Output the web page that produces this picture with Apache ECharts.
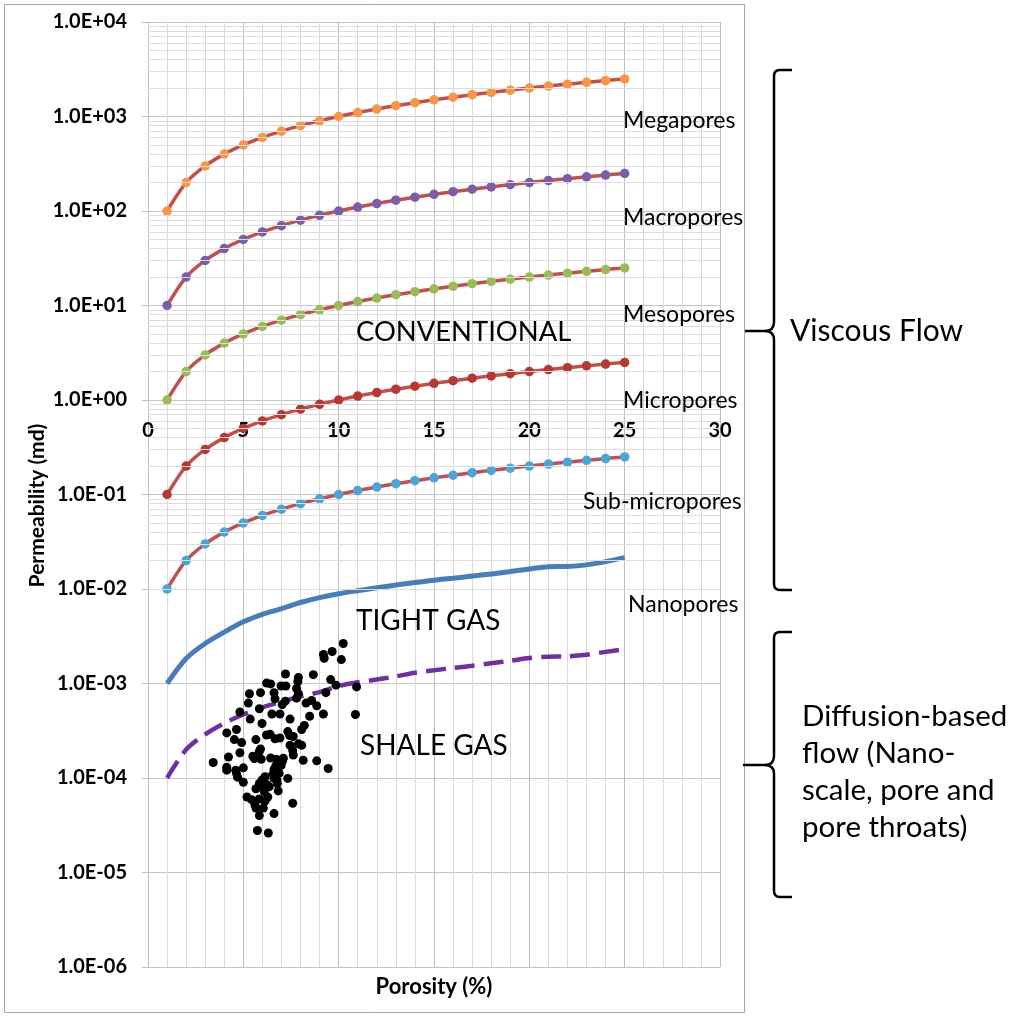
<!DOCTYPE html>
<html>
<head>
<meta charset="utf-8">
<script src="https://cdn.jsdelivr.net/npm/echarts@6/dist/echarts.min.js"></script>
<style>
  html, body { margin: 0; padding: 0; background: #ffffff; }
  #chart { width: 1014px; height: 1016px; }
</style>
</head>
<body>
<div id="chart"></div>
<script>
// Porosity (%) sample points shared by the pore-class curves
const porosity = [1, 2, 3, 4, 5, 6, 7, 8, 9, 10, 11, 12, 13, 14, 15, 16, 17, 18, 19, 20, 21, 22, 23, 24, 25];

// Permeability (md) per pore class
const megapores = [100, 200, 300, 400, 500, 600, 700, 800, 900, 1000, 1100, 1200, 1300, 1400, 1500, 1600, 1700, 1800, 1900, 2000, 2100, 2200, 2300, 2400, 2500];
const macropores = [10, 20, 30, 40, 50, 60, 70, 80, 90, 100, 110, 120, 130, 140, 150, 160, 170, 180, 190, 200, 210, 220, 230, 240, 250];
const mesopores = [1, 2, 3, 4, 5, 6, 7, 8, 9, 10, 11, 12, 13, 14, 15, 16, 17, 18, 19, 20, 21, 22, 23, 24, 25];
const micropores = [0.1, 0.2, 0.3, 0.4, 0.5, 0.6, 0.7, 0.8, 0.9, 1.0, 1.1, 1.2, 1.3, 1.4, 1.5, 1.6, 1.7, 1.8, 1.9, 2.0, 2.1, 2.2, 2.3, 2.4, 2.5];
const subMicropores = [0.01, 0.02, 0.03, 0.04, 0.05, 0.06, 0.07, 0.08, 0.09, 0.10, 0.11, 0.12, 0.13, 0.14, 0.15, 0.16, 0.17, 0.18, 0.19, 0.20, 0.21, 0.22, 0.23, 0.24, 0.25];

// Tight gas (nanopores) trend
const nanopores = [0.00100, 0.00184, 0.00265, 0.00350, 0.00450, 0.00540, 0.00620, 0.00720, 0.00810, 0.00890, 0.00960, 0.01030, 0.01100, 0.01170, 0.01240, 0.01300, 0.01370, 0.01440, 0.01530, 0.01630, 0.01720, 0.01730, 0.01800, 0.01950, 0.02150];

// Shale gas trend (dashed)
const shaleTrend = [0.000100, 0.000200, 0.000290, 0.000380, 0.000470, 0.000560, 0.000640, 0.000730, 0.000810, 0.000940, 0.001030, 0.001100, 0.001190, 0.001300, 0.001380, 0.001460, 0.001540, 0.001640, 0.001740, 0.001860, 0.001920, 0.001940, 0.002020, 0.002160, 0.002300];

// Shale gas samples
const shalePorosity = [
  10.24, 9.66, 9.20, 9.24, 10.14, 7.21, 8.67, 7.89, 9.58, 6.22,
  6.43, 6.98, 7.23, 7.86, 7.79, 9.86, 10.94, 5.32, 5.90, 6.61,
  7.89, 9.33, 5.26, 6.66, 7.79, 8.58, 8.29, 8.85, 5.84, 7.04,
  4.82, 6.50, 6.92, 8.48, 9.20, 10.88, 5.36, 7.45, 5.98, 8.20,
  8.06, 4.64, 4.13, 6.22, 7.33, 7.43, 7.62, 5.66, 4.53, 4.91,
  6.66, 6.92, 7.45, 8.06, 7.89, 5.90, 5.84, 7.59, 7.62, 4.82,
  4.22, 5.58, 5.94, 6.43, 6.72, 6.92, 8.14, 8.85, 3.42, 6.78,
  6.98, 4.13, 4.13, 5.00, 6.81, 4.60, 9.45, 6.61, 4.64, 6.14,
  6.61, 7.33, 4.70, 5.00, 5.96, 6.76, 5.84, 6.78, 5.66, 6.05,
  6.36, 6.83, 6.10, 5.19, 5.44, 5.61, 5.84, 6.28, 6.14, 7.59,
  5.66, 6.05, 5.84, 6.61, 5.74, 6.31,
  6.85, 6.95, 7.05, 6.70, 6.55, 6.25, 6.00, 5.50, 7.10, 6.40, 7.20, 6.88
];
const shalePermeability = [
  2.65e-3, 2.18e-3, 2.03e-3, 1.85e-3, 1.79e-3, 1.26e-3, 1.24e-3, 1.16e-3, 1.10e-3, 1.01e-3,
  9.9e-4, 9.4e-4, 9.4e-4, 1.05e-3, 8.85e-4, 9.6e-4, 9.2e-4, 7.8e-4, 8.0e-4, 8.0e-4,
  7.8e-4, 8.0e-4, 6.2e-4, 6.9e-4, 7.0e-4, 6.6e-4, 6.2e-4, 5.8e-4, 5.4e-4, 6.0e-4,
  5.0e-4, 4.75e-4, 4.75e-4, 4.5e-4, 4.75e-4, 4.7e-4, 4.2e-4, 4.2e-4, 3.77e-4, 3.6e-4,
  3.26e-4, 3.26e-4, 3.0e-4, 2.85e-4, 3.1e-4, 2.82e-4, 2.75e-4, 2.55e-4, 2.55e-4, 2.37e-4,
  2.6e-4, 2.65e-4, 2.22e-4, 2.22e-4, 2.3e-4, 2.03e-4, 1.91e-4, 1.95e-4, 1.75e-4, 1.85e-4,
  1.67e-4, 1.61e-4, 1.58e-4, 1.63e-4, 1.58e-4, 1.54e-4, 1.54e-4, 1.52e-4, 1.46e-4, 1.42e-4,
  1.35e-4, 1.21e-4, 1.30e-4, 1.28e-4, 1.26e-4, 1.21e-4, 1.26e-4, 1.23e-4, 1.12e-4, 1.03e-4,
  9.9e-5, 9.9e-5, 1.02e-4, 9.0e-5, 9.2e-5, 9.5e-5, 8.75e-5, 8.75e-5, 7.7e-5, 7.9e-5,
  8.1e-5, 7.3e-5, 7.2e-5, 6.3e-5, 5.9e-5, 5.2e-5, 6.0e-5, 6.3e-5, 5.7e-5, 5.4e-5,
  4.8e-5, 4.8e-5, 4.0e-5, 4.2e-5, 2.78e-5, 2.62e-5,
  1.45e-4, 1.38e-4, 1.50e-4, 1.33e-4, 1.10e-4, 8.5e-5, 9.6e-5, 1.7e-4, 1.62e-4, 2.9e-4, 6.5e-4, 1.12e-4
];

// Axis tick labels
const xTickLabels = ['0', '5', '10', '15', '20', '25', '30'];
const yTickLabels = ['1.0E-06', '1.0E-05', '1.0E-04', '1.0E-03', '1.0E-02', '1.0E-01', '1.0E+00', '1.0E+01', '1.0E+02', '1.0E+03', '1.0E+04'];

const FONT = 'Lato, "Open Sans", sans-serif';
const CURVE_RED = '#c0504d';

function pairs(xs, ys) {
  return xs.map((x, i) => [x, ys[i]]);
}

// Log-scale minor gridlines at 2..9 within each decade
const minorGrid = [];
for (let e = -6; e < 4; e++) {
  for (let m = 2; m <= 9; m++) minorGrid.push({ yAxis: m * Math.pow(10, e) });
}

function poreSeries(name, values, markerColor) {
  return {
    name: name,
    type: 'line',
    data: pairs(porosity, values),
    smooth: 0.3,
    symbol: 'circle',
    symbolSize: 9.5,
    lineStyle: { color: CURVE_RED, width: 3.5 },
    itemStyle: { color: markerColor, borderWidth: 0 },
    z: 4
  };
}

function textEl(str, x, y, size) {
  return {
    type: 'text', x: x, y: y, z: 50, silent: true,
    style: { text: str, fill: '#000', fontSize: size, fontFamily: FONT, verticalAlign: 'middle', align: 'left' }
  };
}

// Left curly brace: hooks at yTop / yBottom, point at yMid reaching xTip
function brace(yTop, yMid, yBottom, xTip) {
  const xv = 774, xh = 792, r = 6, rm = 9;
  const st = { stroke: '#000', lineWidth: 2.5, fill: null };
  const seg = (x1, y1, x2, y2) => ({ type: 'line', z: 50, silent: true, shape: { x1, y1, x2, y2 }, style: st });
  const crv = (x1, y1, cx, cy, x2, y2) => ({ type: 'bezierCurve', z: 50, silent: true, shape: { x1, y1, cpx1: cx, cpy1: cy, x2, y2 }, style: st });
  return [
    seg(xh, yTop, xv + r, yTop),
    crv(xv + r, yTop, xv, yTop, xv, yTop + r),
    seg(xv, yTop + r, xv, yMid - rm),
    crv(xv, yMid - rm, xv, yMid, xv - rm, yMid),
    seg(xv - rm, yMid, xTip, yMid),
    crv(xv - rm, yMid, xv, yMid, xv, yMid + rm),
    seg(xv, yMid + rm, xv, yBottom - r),
    crv(xv, yBottom - r, xv, yBottom, xv + r, yBottom),
    seg(xv + r, yBottom, xh, yBottom)
  ];
}

const chart = echarts.init(document.getElementById('chart'), null, { renderer: 'canvas' });

const option = {
  backgroundColor: '#ffffff',
  animation: false,
  grid: { left: 148, top: 22, width: 572, height: 945, containLabel: false },
  xAxis: {
    type: 'value',
    min: 0,
    max: 30,
    interval: 5,
    name: 'Porosity (%)',
    nameLocation: 'middle',
    nameGap: 9,
    nameMoveOverlap: false,
    nameTextStyle: { fontFamily: FONT, fontWeight: 'bold', fontSize: 22, color: '#000', verticalAlign: 'top' },
    axisLine: { show: false },
    axisTick: { show: false },
    axisLabel: {
      margin: -546,
      fontFamily: FONT, fontWeight: 'bold', fontSize: 20, color: '#000',
      formatter: v => xTickLabels[Math.round(v / 5)]
    },
    splitLine: { show: true, lineStyle: { color: '#bdbdbd', width: 1 } },
    minorTick: { show: false, splitNumber: 5 },
    minorSplitLine: { show: true, lineStyle: { color: '#d9d9d9', width: 1 } }
  },
  yAxis: {
    type: 'log',
    logBase: 10,
    min: 1e-6,
    max: 1e4,
    interval: 1,
    splitNumber: 10,
    name: 'Permeability (md)',
    nameLocation: 'middle',
    nameGap: 100,
    nameMoveOverlap: false,
    nameTextStyle: { fontFamily: FONT, fontWeight: 'bold', fontSize: 21, color: '#000', padding: [0, 22, 0, 0] },
    axisLine: { show: true, lineStyle: { color: '#bdbdbd' } },
    axisTick: { show: true, length: 6, lineStyle: { color: '#bdbdbd' } },
    axisLabel: {
      margin: 21,
      fontFamily: FONT, fontWeight: 'bold', fontSize: 20, color: '#000',
      formatter: v => yTickLabels[Math.round(Math.log10(v)) + 6]
    },
    splitLine: { show: true, lineStyle: { color: '#c4c4c4', width: 1 } }
  },
  series: [
    {
      name: 'grid-minor',
      type: 'line',
      data: [[0, 1]],
      symbol: 'none',
      lineStyle: { opacity: 0 },
      silent: true,
      z: 1,
      markLine: {
        silent: true,
        symbol: 'none',
        label: { show: false },
        lineStyle: { color: '#dcdcdc', width: 1, type: 'solid' },
        data: minorGrid
      }
    },
    poreSeries('Megapores', megapores, '#f79646'),
    poreSeries('Macropores', macropores, '#7b5ea7'),
    poreSeries('Mesopores', mesopores, '#9bbb59'),
    poreSeries('Micropores', micropores, '#b23a33'),
    poreSeries('Sub-micropores', subMicropores, '#4ba5d6'),
    {
      name: 'Nanopores',
      type: 'line',
      data: pairs(porosity, nanopores),
      smooth: 0.3,
      showSymbol: false,
      symbol: 'none',
      lineStyle: { color: '#4a7db6', width: 5 },
      z: 3
    },
    {
      name: 'Shale trend',
      type: 'line',
      data: pairs(porosity, shaleTrend),
      smooth: 0.3,
      showSymbol: false,
      symbol: 'none',
      lineStyle: { color: '#7030a0', width: 4.5, type: [20, 9] },
      z: 3
    },
    {
      name: 'Shale gas',
      type: 'scatter',
      data: pairs(shalePorosity, shalePermeability),
      symbol: 'circle',
      symbolSize: 9,
      itemStyle: { color: '#000000', opacity: 1 },
      z: 5
    }
  ],
  graphic: [
    // chart frame
    { type: 'rect', z: 0, silent: true, shape: { x: 4.5, y: 4.5, width: 740, height: 1008 }, style: { fill: null, stroke: '#a6a6a6', lineWidth: 1 } },
    // pore-class labels
    textEl('Megapores', 623, 121, 23),
    textEl('Macropores', 623, 218, 23),
    textEl('Mesopores', 623, 315, 23),
    textEl('Micropores', 623, 401, 23),
    textEl('Sub-micropores', 583, 502, 23),
    textEl('Nanopores', 628, 605, 23),
    // regime labels
    textEl('CONVENTIONAL', 356, 332, 27.4),
    textEl('TIGHT GAS', 356, 621, 28),
    textEl('SHALE GAS', 360, 746, 28),
    // flow regimes
    textEl('Viscous Flow', 790, 331, 30),
    {
      type: 'text', x: 802, y: 698, z: 50, silent: true,
      style: { text: 'Diffusion-based\nflow (Nano-\nscale, pore and\npore throats)', fill: '#000', fontSize: 29.5, fontFamily: FONT, lineHeight: 37, verticalAlign: 'top' }
    }
  ].concat(brace(70, 331, 590, 745), brace(632, 765, 897, 743))
};

chart.setOption(option);
</script>
</body>
</html>
